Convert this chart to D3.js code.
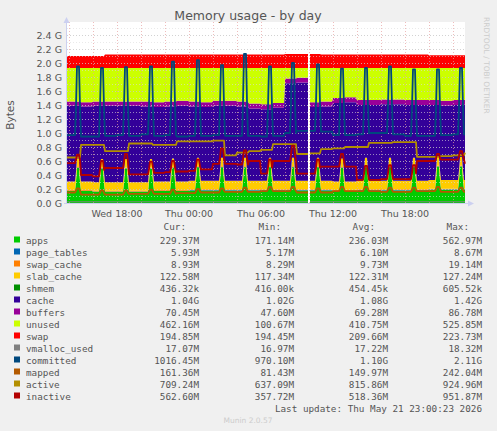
<!DOCTYPE html>
<html><head><meta charset="utf-8">
<script src="https://cdn.jsdelivr.net/npm/d3@7"></script>
<style>body{margin:0;background:#f0f0f0}svg{display:block}</style>
</head><body><svg id="c" width="497" height="431"></svg>
<script>
// hourly levels starting Wed 14:00 (34 values)
const hoursStart = "2026-05-20T14:00";
const appsBase = [0.17,0.17,0.16,0.16,0.16,0.16,0.16,0.17,0.17,0.17,0.18,0.18,0.18,0.18,0.18,0.18,0.18,0.18,0.18,0.18,0.18,0.18,0.17,0.17,0.18,0.18,0.18,0.18,0.18,0.18,0.19,0.19,0.19,0.19];
const pageTables = 0.006, swapCache = 0.009, slabCache = 0.122, shmem = 0.0004;
const buffers = [0.06,0.06,0.06,0.06,0.06,0.06,0.07,0.07,0.07,0.07,0.07,0.07,0.07,0.07,0.07,0.07,0.07,0.07,0.07,0.07,0.07,0.07,0.07,0.07,0.07,0.07,0.07,0.07,0.07,0.07,0.07,0.07,0.07,0.07];
const cacheTop = [1.45,1.44,1.45,1.45,1.45,1.45,1.45,1.44,1.45,1.46,1.45,1.44,1.46,1.46,1.45,1.42,1.41,1.43,1.78,1.79,1.44,1.45,1.50,1.51,1.47,1.47,1.48,1.48,1.47,1.47,1.47,1.46,1.47,1.48];
const unusedTop = 1.93;
const swapTop = [2.10,2.10,2.10,2.12,2.12,2.12,2.12,2.12,2.12,2.12,2.12,2.12,2.12,2.12,2.12,2.12,2.12,2.12,2.13,2.13,2.13,2.12,2.12,2.12,2.12,2.12,2.12,2.12,2.12,2.12,2.11,2.11,2.11,2.11];
const committed = [0.97,0.95,0.95,0.96,0.97,0.96,0.98,0.96,0.97,0.95,0.96,0.96,0.97,0.96,0.96,0.96,0.95,0.96,1.00,1.03,1.03,1.02,0.97,0.97,0.98,1.00,1.00,0.98,0.96,0.96,0.96,0.97,0.98,0.98];
const mapped = [0.15,0.12,0.12,0.12,0.12,0.13,0.13,0.13,0.13,0.14,0.14,0.15,0.15,0.16,0.16,0.16,0.17,0.17,0.17,0.15,0.15,0.15,0.17,0.17,0.17,0.17,0.16,0.16,0.16,0.17,0.17,0.16,0.16,0.16];
const active = [0.65,0.83,0.83,0.74,0.74,0.85,0.85,0.83,0.83,0.88,0.88,0.88,0.89,0.68,0.72,0.74,0.76,0.84,0.84,0.70,0.71,0.77,0.78,0.80,0.80,0.86,0.86,0.87,0.87,0.66,0.66,0.67,0.68,0.72];
const inactive = [0.57,0.40,0.38,0.50,0.50,0.41,0.41,0.43,0.44,0.45,0.46,0.48,0.56,0.56,0.55,0.60,0.42,0.60,0.60,0.42,0.42,0.52,0.52,0.52,0.33,0.33,0.34,0.34,0.34,0.60,0.60,0.62,0.62,0.56];
const spikeTimes = ["2026-05-20T14:45","2026-05-20T16:45","2026-05-20T18:45","2026-05-20T20:50","2026-05-20T22:40","2026-05-21T00:45","2026-05-21T02:45","2026-05-21T04:40","2026-05-21T06:45","2026-05-21T08:40","2026-05-21T10:45","2026-05-21T12:45","2026-05-21T14:45","2026-05-21T16:45","2026-05-21T18:45","2026-05-21T20:45","2026-05-21T22:40"];
const spikeApps = [0.33,0.33,0.33,0.33,0.33,0.33,0.33,0.33,0.33,0.33,0.33,0.33,0.33,0.33,0.33,0.33,0.33];
const spikeCommitted = [0.98,0.98,0.97,0.97,1.05,1.08,1.0,1.17,1.0,1.0,0.95,0.95,0.95,0.95,0.95,0.95,0.95];
const spikeInactive = [0.12,0.22,0.2,0.18,0.16,0.16,0.22,0.2,0.2,0.22,0.2,0.18,0.2,0.2,0.2,0.1,0.12];
const gapTime = "2026-05-21T10:00";
const yTicks = [0,0.2,0.4,0.6,0.8,1.0,1.2,1.4,1.6,1.8,2.0,2.2,2.4];
const xTickLabels = [["2026-05-20T18:00","Wed 18:00"],["2026-05-21T00:00","Thu 00:00"],["2026-05-21T06:00","Thu 06:00"],["2026-05-21T12:00","Thu 12:00"],["2026-05-21T18:00","Thu 18:00"]];
const legend = [
 ["apps","#00CC00","229.37M","171.14M","236.03M","562.97M"],
 ["page_tables","#0066B3","5.93M","5.17M","6.10M","8.67M"],
 ["swap_cache","#FF8000","8.93M","8.29M","9.73M","19.14M"],
 ["slab_cache","#FFCC00","122.58M","117.34M","122.31M","127.24M"],
 ["shmem","#008F00","436.32k","416.00k","454.45k","605.52k"],
 ["cache","#330099","1.04G","1.02G","1.08G","1.42G"],
 ["buffers","#990099","70.45M","47.60M","69.28M","86.78M"],
 ["unused","#CCFF00","462.16M","100.67M","410.75M","525.85M"],
 ["swap","#FF0000","194.85M","194.45M","209.66M","223.73M"],
 ["vmalloc_used","#808080","17.07M","16.97M","17.22M","18.32M"],
 ["committed","#00487D","1016.45M","970.10M","1.10G","2.11G"],
 ["mapped","#B35A00","161.36M","81.43M","149.97M","242.04M"],
 ["active","#B38F00","709.24M","637.09M","815.86M","924.96M"],
 ["inactive","#B30000","562.60M","357.72M","518.36M","951.87M"]];

const svg = d3.select("#c");
const P = d3.timeParse("%Y-%m-%dT%H:%M");
const t0 = P("2026-05-20T13:50"), t1 = P("2026-05-21T23:00");
const L=67,R=465,T=28,B=203;
const x = d3.scaleTime().domain([t0,t1]).range([L,R]);
const y = d3.scaleLinear().domain([0,2.5]).range([B, B-175]);
svg.append("rect").attr("x",L).attr("y",T-6).attr("width",R-L).attr("height",B-T+6).attr("fill","#fff");
const hs = P(hoursStart), gap = P(gapTime), sp = spikeTimes.map(P);
const samples=[];
for(let t=+t0;t<=+t1;t+=5*60000){
  const d=new Date(t); let i=Math.floor((t-hs)/3600000); i=Math.max(0,Math.min(33,i));
  let s=-1,f=0; sp.forEach((q,k)=>{const dt=Math.abs(t-q)/60000; if(dt<=15){s=k; f=dt<=5?1:(15-dt)/12;}});
  const apps = appsBase[i]+(s<0?0:spikeApps[s]*f);
  const v={t:d,gap:Math.abs(t-gap)<3*60000};
  v.apps=apps; v.page_tables=pageTables; v.swap_cache=swapCache; v.slab_cache=slabCache; v.shmem=shmem;
  v.buffers=buffers[i];
  v.cache=cacheTop[i]-buffers[i]-apps-pageTables-swapCache-slabCache-shmem;
  v.unused=unusedTop-cacheTop[i]; v.swap=swapTop[i]-unusedTop;
  v.committed=committed[i]+(s<0?0:spikeCommitted[s]*f);
  v.mapped=mapped[i]+(s<0?0:0.06*f);
  v.active=active[i]; v.inactive=inactive[i]+(s<0?0:spikeInactive[s]*f);
  v.vmalloc_used=0.017;
  samples.push(v);
}
const keys=["apps","page_tables","swap_cache","slab_cache","shmem","cache","buffers","unused","swap"];
const col=Object.fromEntries(legend.map(d=>[d[0],d[1]]));
const stack=d3.stack().keys(keys)(samples);
const area=d3.area().defined(d=>!d.data.gap).x(d=>x(d.data.t)).y0(d=>y(d[0])).y1(d=>y(d[1]));
stack.forEach(s=>svg.append("path").attr("d",area(s)).attr("fill",col[s.key]));
const g=svg.append("g");
yTicks.forEach(v=>{g.append("line").attr("x1",L).attr("x2",R).attr("y1",y(v)+.5).attr("y2",y(v)+.5).attr("stroke","#c8c8c8").attr("stroke-dasharray","1,2").attr("opacity",0.8);
 g.append("line").attr("x1",L).attr("x2",R).attr("y1",y(v+0.1)+.5).attr("y2",y(v+0.1)+.5).attr("stroke","#ddd").attr("stroke-dasharray","1,2").attr("opacity",0.6);});
for(let t=+P("2026-05-20T14:00");t<=+t1;t+=2*3600000){const xx=Math.round(x(new Date(t)))+.5;
 g.append("line").attr("x1",xx).attr("x2",xx).attr("y1",T-6).attr("y2",B).attr("stroke","#e8a0a0").attr("stroke-dasharray","1,2").attr("opacity",0.7);}
["vmalloc_used","committed","mapped","active","inactive"].forEach(k=>{
 const ln=d3.line().defined(d=>!d.gap).x(d=>x(d.t)).y(d=>y(d[k]));
 svg.append("path").attr("d",ln(samples)).attr("fill","none").attr("stroke",col[k]).attr("stroke-width",k=="vmalloc_used"?1:1.8).attr("stroke-linejoin","round");
});
svg.append("line").attr("x1",L-0.5).attr("x2",L-0.5).attr("y1",B+1).attr("y2",20).attr("stroke","#ccd0f0");
svg.append("line").attr("x1",L-3).attr("x2",R+5).attr("y1",B+0.5).attr("y2",B+0.5).attr("stroke","#ccd0f0");
svg.append("path").attr("d",`M${L-3.5},23 L${L-0.5},17 L${L+2.5},23Z`).attr("fill","#ccd0f0");
svg.append("path").attr("d",`M${R+3},${B-2.5} L${R+9},${B+0.5} L${R+3},${B+3.5}Z`).attr("fill","#ccd0f0");
const txt=(s,xx,yy,o)=>svg.append("text").text(s).attr("x",xx).attr("y",yy).attr("font-family",o&&o.f||"DejaVu Sans").attr("font-size",o&&o.s||9.5).attr("fill",o&&o.c||"#555").attr("text-anchor",o&&o.a||"start");
yTicks.forEach(v=>txt((v===0?"0.0":v.toFixed(1))+" G",L-5,y(v)+3.5,{a:"end"}));
xTickLabels.forEach(([t,l])=>txt(l,x(P(t)),B+14,{a:"middle"}));
txt("Memory usage - by day",248,20,{s:12.5,a:"middle"});
svg.append("text").text("Bytes").attr("transform","translate(14,115) rotate(-90)").attr("text-anchor","middle").attr("font-family","DejaVu Sans").attr("font-size",10.5).attr("fill","#555");
svg.append("text").text("RRDTOOL / TOBI OETIKER").attr("transform","translate(484,17) rotate(90)").attr("font-family","DejaVu Sans").attr("font-size",7.5).attr("fill","#ccc");
const M={f:"DejaVu Sans Mono",s:9.3};
const cx=[199,294,388,482];
["Cur:","Min:","Avg:","Max:"].forEach((h,i)=>txt(h,cx[i]-13,230,{...M,a:"end"}));
legend.forEach((d,r)=>{const yy=244+r*12;
 svg.append("rect").attr("x",14).attr("y",yy-7.5).attr("width",6).attr("height",6).attr("fill",d[1]);
 txt(d[0],26,yy,M);
 for(let i=0;i<4;i++)txt(d[i+2],cx[i],yy,{...M,a:"end"});
});
txt("Last update: Thu May 21 23:00:23 2026",482,412,{...M,a:"end"});
txt("Munin 2.0.57",248,423,{s:7.5,c:"#ccc",a:"middle"});
</script></body></html>
